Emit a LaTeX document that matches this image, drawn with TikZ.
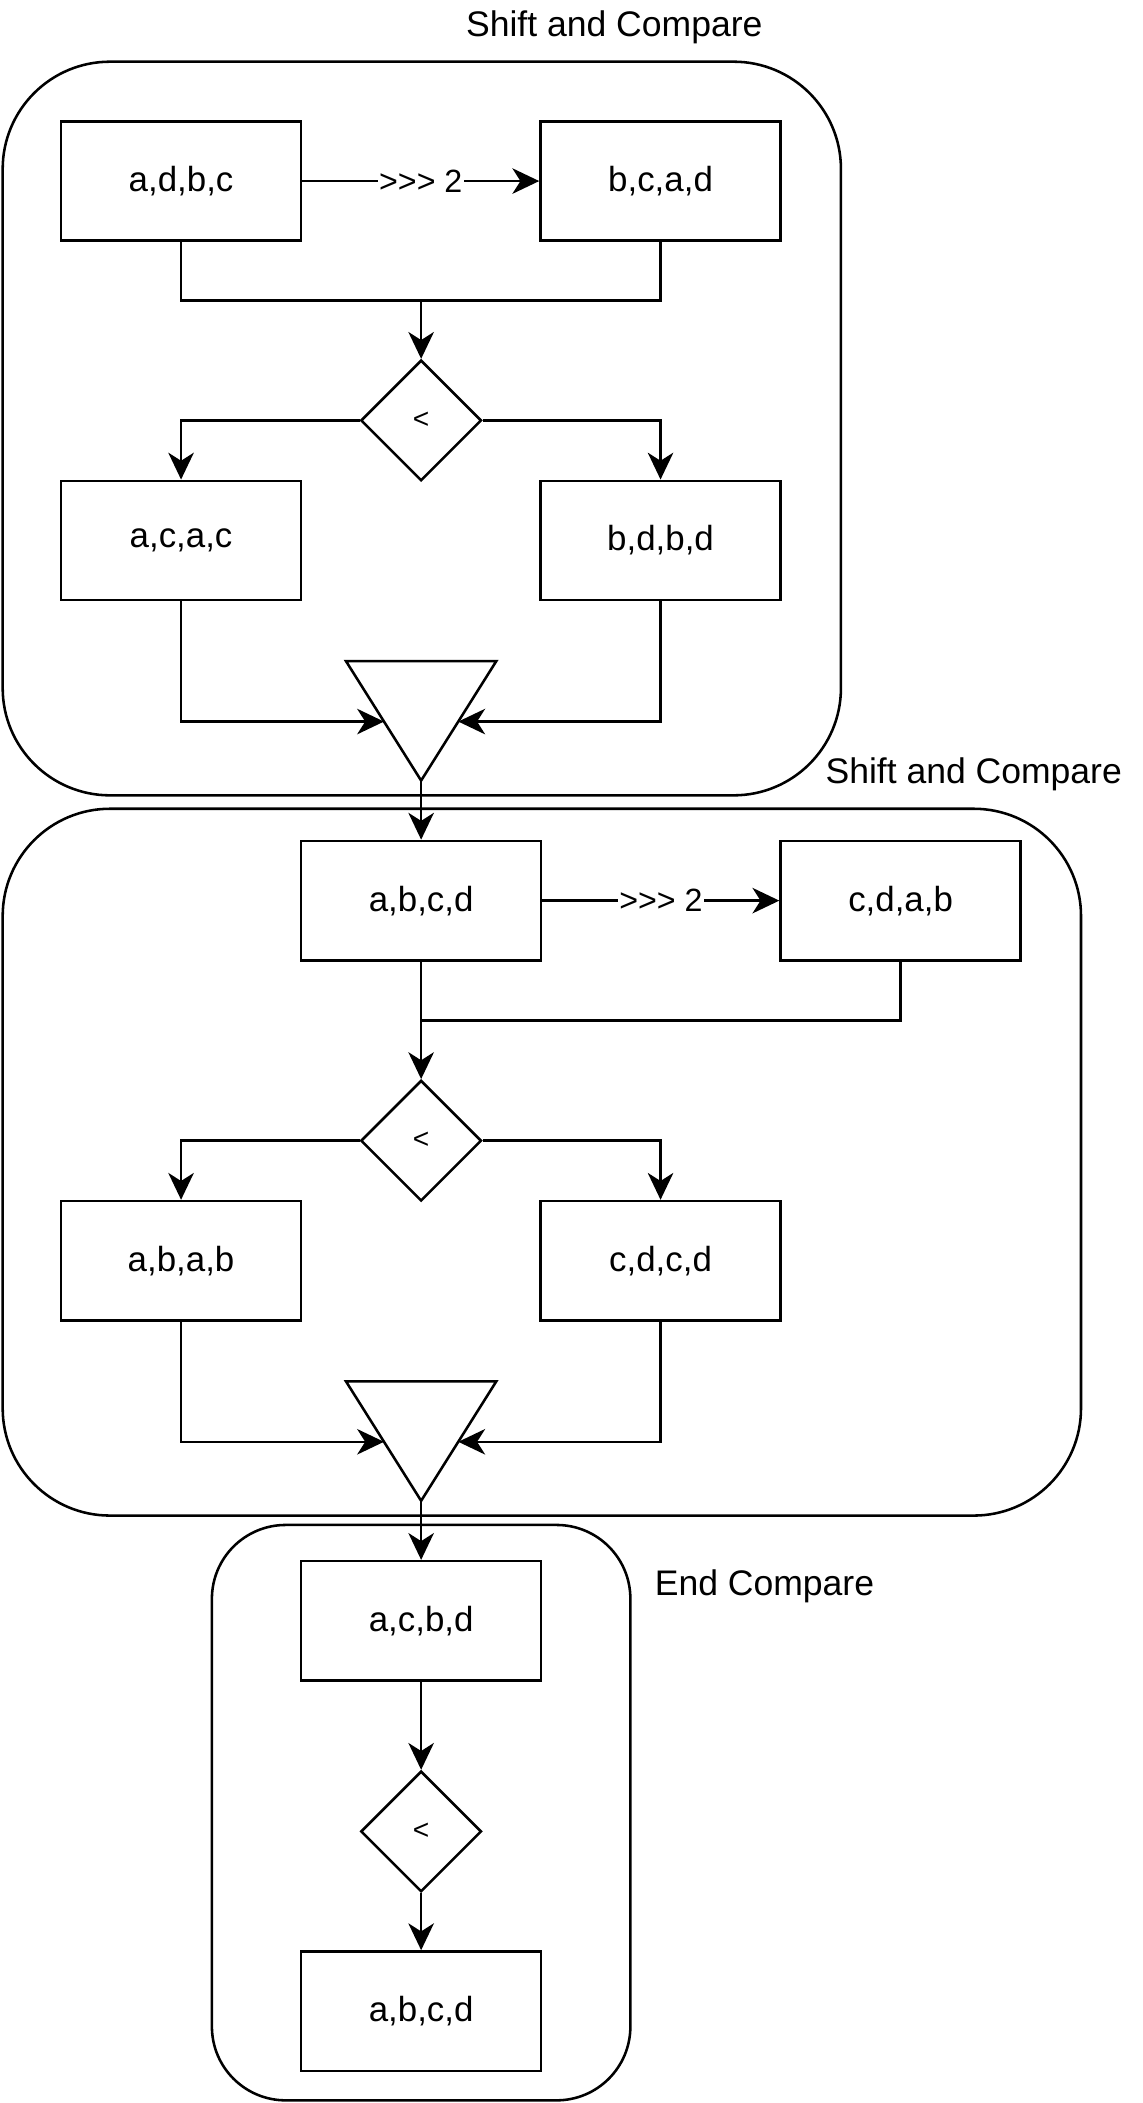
\documentclass[tikz,border=0pt]{standalone}
\usepackage{fontspec}
\setmainfont{Liberation Sans}
\usetikzlibrary{shapes.geometric,arrows.meta}
\begin{document}
\begin{tikzpicture}[x=1pt,y=-1pt,
  line width=1.9pt,
  box/.style={draw, minimum width=179pt, minimum height=89pt, inner sep=0pt, font=\fontsize{26}{30}\selectfont},
  cmp/.style={draw, diamond, minimum width=90pt, minimum height=90pt, inner sep=0pt, font=\fontsize{21}{24}\selectfont},
  group/.style={draw, rounded corners=80pt, inner sep=0pt},
  title/.style={inner sep=0pt, font=\fontsize{26.5}{30}\selectfont},
  arr/.style={-{Stealth[length=20pt,width=19pt,inset=6pt]}},
  lbl/.style={fill=white, inner sep=1pt, font=\fontsize{24}{28}\selectfont}
]
\useasboundingbox (0,0) rectangle (852,1568);

% containers
\node[group, minimum width=625pt, minimum height=547pt] (g1) at (314.5,319.5) {};
\node[group, minimum width=804pt, minimum height=527pt] (g2) at (404,866.5) {};
\node[group, rounded corners=55pt, minimum width=312pt, minimum height=429pt] (g3) at (314,1351.5) {};

\node[title] (t1) at (458,20) {Shift and Compare};
\node[title] (t2) at (726,577) {Shift and Compare};
\node[title] (t3) at (570,1183) {End Compare};

% level 1
\node[box] (a1) at (135,135) {a,d,b,c};
\node[box] (b1) at (492.5,135) {b,c,a,d};
\node[cmp] (d1) at (314,313.5) {<};
\node[box] (c1) at (135,403) {a,c,a,c};
\node[box] (e1) at (492.5,403) {b,d,b,d};
\coordinate (j1) at (314,224);
\coordinate (p1a) at (258,493);
\coordinate (p1b) at (370,493);
\coordinate (p1c) at (314,582);
\coordinate (l1) at (286.3,538);
\coordinate (r1) at (341.7,538);
\draw (p1a) -- (p1b) -- (p1c) -- cycle;

\draw[arr] (a1) -- node[lbl] {>{}>{}> 2} (b1);
\draw (a1.south) |- (j1) -| (b1.south);
\draw[arr] (j1) -- (d1.north);
\draw[arr] (d1.west) -| (c1.north);
\draw[arr] (d1.east) -| (e1.north);
\draw[arr] (c1.south) |- (l1);
\draw[arr] (e1.south) |- (r1);

% level 2
\node[box] (a2) at (314,671.5) {a,b,c,d};
\node[box] (b2) at (671.5,671.5) {c,d,a,b};
\node[cmp] (d2) at (314,850.5) {<};
\node[box] (c2) at (135,940) {a,b,a,b};
\node[box] (e2) at (492.5,940) {c,d,c,d};
\coordinate (j2) at (314,761);
\coordinate (p2a) at (258,1030);
\coordinate (p2b) at (370,1030);
\coordinate (p2c) at (314,1119);
\coordinate (l2) at (286.3,1075);
\coordinate (r2) at (341.7,1075);
\draw (p2a) -- (p2b) -- (p2c) -- cycle;

\draw[arr] (p1c) -- (a2.north);
\draw[arr] (a2) -- node[lbl] {>{}>{}> 2} (b2);
\draw (b2.south) |- (j2);
\draw[arr] (a2.south) -- (d2.north);
\draw[arr] (d2.west) -| (c2.north);
\draw[arr] (d2.east) -| (e2.north);
\draw[arr] (c2.south) |- (l2);
\draw[arr] (e2.south) |- (r2);

% level 3
\node[box] (a3) at (314,1208.5) {a,c,b,d};
\node[cmp] (d3) at (314,1365.5) {<};
\node[box] (b3) at (314,1499.5) {a,b,c,d};
\draw[arr] (p2c) -- (a3.north);
\draw[arr] (a3.south) -- (d3.north);
\draw[arr] (d3.south) -- (b3.north);
\end{tikzpicture}
\end{document}
